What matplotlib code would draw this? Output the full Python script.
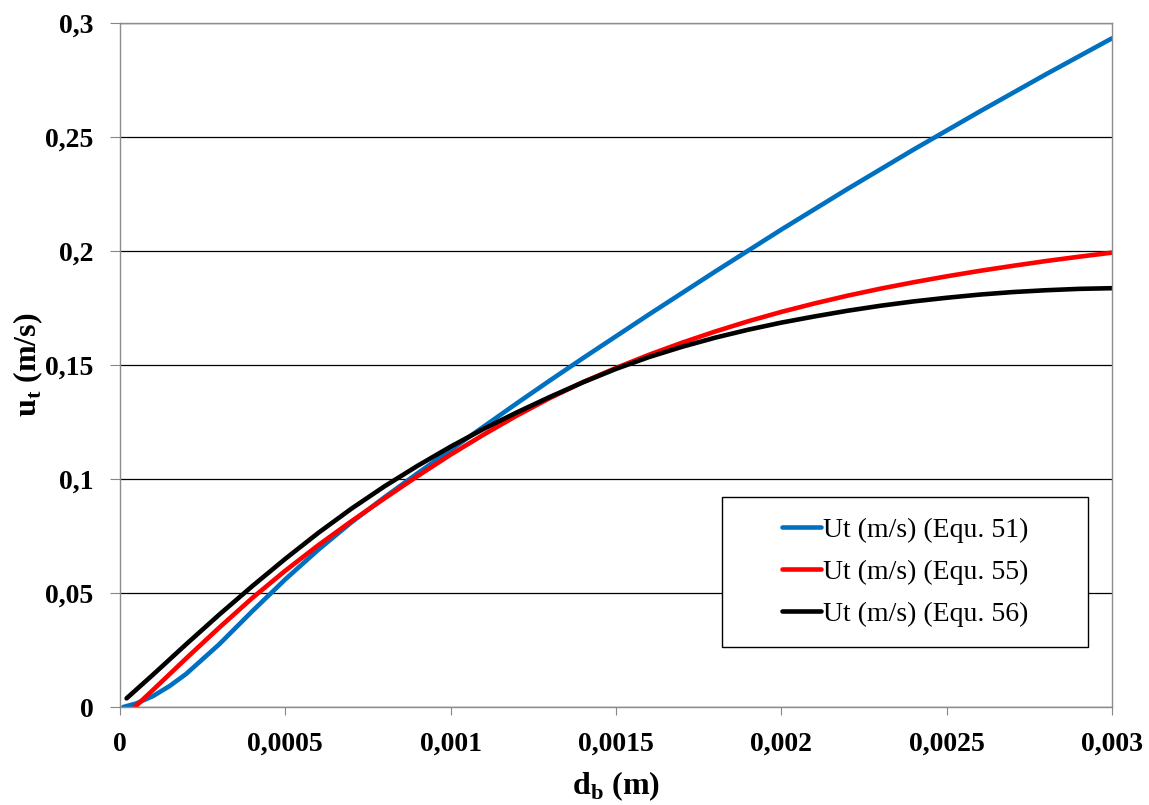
import matplotlib
matplotlib.use('Agg')
import matplotlib.pyplot as plt
from matplotlib.patches import Rectangle

# data
d_51 = [0.00001, 0.00005, 0.0001, 0.00015, 0.0002, 0.0003, 0.0004, 0.0005, 0.0006, 0.0007,
        0.0008, 0.0009, 0.001, 0.0011, 0.0012, 0.0013, 0.0014, 0.0016, 0.0018, 0.002,
        0.0022, 0.0024, 0.0026, 0.0028, 0.003]
u_51 = [0.0, 0.0016, 0.0048, 0.0092, 0.0145, 0.0275, 0.042, 0.056, 0.069, 0.081,
        0.092, 0.1025, 0.1128, 0.123, 0.1332, 0.1432, 0.153, 0.1722, 0.191, 0.2094,
        0.2272, 0.2445, 0.2612, 0.2775, 0.2933]

d_55 = [0.000045, 0.0001, 0.0002, 0.0003, 0.0004, 0.0005, 0.0006, 0.0007, 0.0008, 0.0009,
        0.001, 0.0011, 0.0012, 0.0013, 0.0014, 0.0015, 0.0016, 0.0017, 0.0018, 0.0019,
        0.002, 0.0021, 0.0022, 0.0023, 0.0024, 0.0025, 0.0026, 0.0027, 0.0028, 0.0029,
        0.003]
u_55 = [0.0, 0.0075, 0.0213, 0.0348, 0.0478, 0.0598, 0.071, 0.0815, 0.0915, 0.1013,
        0.1107, 0.1195, 0.1278, 0.1355, 0.1425, 0.1487, 0.1545, 0.1598, 0.1647, 0.1692,
        0.1733, 0.177, 0.1804, 0.1835, 0.1863, 0.1889, 0.1913, 0.1935, 0.1956, 0.1975,
        0.1993]

d_56 = [0.00002, 0.0001, 0.0002, 0.0003, 0.0004, 0.0005, 0.0006, 0.0007, 0.0008, 0.0009,
        0.001, 0.0011, 0.0012, 0.0013, 0.0014, 0.0015, 0.0016, 0.0017, 0.0018, 0.0019,
        0.002, 0.0021, 0.0022, 0.0023, 0.0024, 0.0025, 0.0026, 0.0027, 0.0028, 0.0029,
        0.003]
u_56 = [0.0038, 0.0142, 0.0275, 0.0405, 0.053, 0.065, 0.0764, 0.087, 0.0968, 0.1058,
        0.1142, 0.122, 0.1292, 0.136, 0.1424, 0.1483, 0.1535, 0.158, 0.162, 0.1655,
        0.1686, 0.1713, 0.1738, 0.176, 0.1779, 0.1795, 0.1809, 0.182, 0.1828, 0.1834,
        0.1837]

labels = ['Ut (m/s) (Equ. 51)', 'Ut (m/s) (Equ. 55)', 'Ut (m/s) (Equ. 56)']
colors = ['#0070C0', '#FF0000', '#000000']

x_ticks = [0, 0.0005, 0.001, 0.0015, 0.002, 0.0025, 0.003]
x_ticklabels = ['0', '0,0005', '0,001', '0,0015', '0,002', '0,0025', '0,003']
y_ticks = [0, 0.05, 0.1, 0.15, 0.2, 0.25, 0.3]
y_ticklabels = ['0', '0,05', '0,1', '0,15', '0,2', '0,25', '0,3']

plt.rcParams['font.family'] = ['Liberation Serif', 'DejaVu Serif']
plt.rcParams['mathtext.fontset'] = 'custom'
plt.rcParams['mathtext.rm'] = 'Liberation Serif'
plt.rcParams['mathtext.bf'] = 'Liberation Serif:bold'

fig = plt.figure(figsize=(11.49, 8.05), dpi=100)
ax = fig.add_axes([0.1044, 0.1217, 0.8634, 0.8497])

for xs, ys, c, lab in zip([d_51, d_55, d_56], [u_51, u_55, u_56], colors, labels):
    ax.plot(xs, ys, color=c, lw=3.3, label=lab, solid_capstyle='round')

ax.set_xlim(0, 0.003)
ax.set_ylim(0, 0.3)
ax.set_xticks(x_ticks)
ax.set_xticklabels(x_ticklabels, fontsize=20, fontweight='bold')
ax.set_yticks(y_ticks)
ax.set_yticklabels(y_ticklabels, fontsize=20, fontweight='bold')
ax.tick_params(axis='x', direction='out', length=6, color='#868686', pad=12)
ax.tick_params(axis='y', direction='out', length=7, color='#868686', pad=12)

ax.yaxis.grid(True, color='black', lw=0.9)
ax.set_axisbelow(True)
for s in ax.spines.values():
    s.set_color('#8c8c8c')
    s.set_linewidth(1)

ax.set_xlabel(r'd$_\mathbf{b}$ (m)', fontsize=23, fontweight='bold', labelpad=9)
ax.set_ylabel(r'u$_\mathbf{t}$ (m/s)', fontsize=23, fontweight='bold', labelpad=0)

# legend box
ax.add_patch(Rectangle((0.607, 0.0877), 0.369, 0.219, transform=ax.transAxes,
                       fill=True, facecolor='white', edgecolor='black', lw=1, zorder=4))
leg = ax.legend(loc='center', bbox_to_anchor=(0.607 + 0.369 / 2, 0.0877 + 0.219 / 2),
                frameon=False, fontsize=20, handlelength=1.4, handletextpad=0.05,
                labelspacing=0.6)
leg.set_zorder(5)

fig.savefig('out.png', dpi=100)
